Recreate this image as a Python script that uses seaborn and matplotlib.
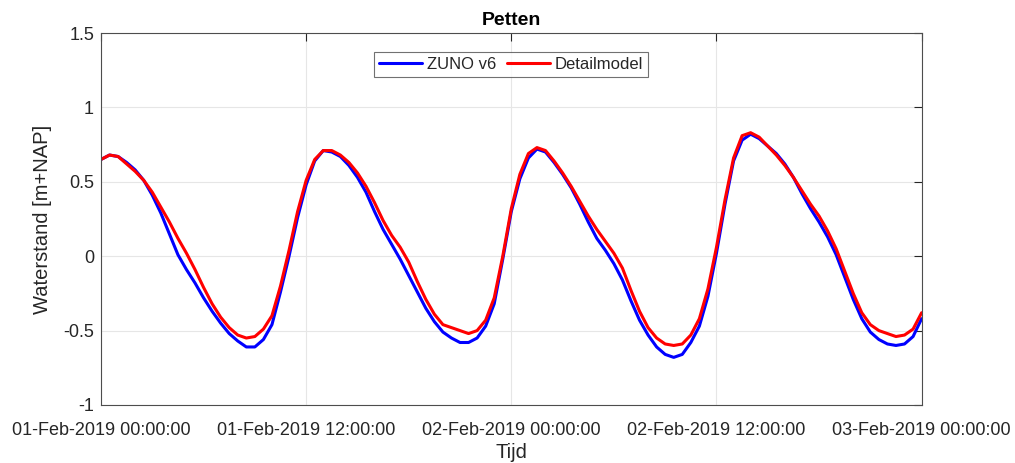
import numpy as np
import pandas as pd
import matplotlib
matplotlib.use("Agg")
import matplotlib.pyplot as plt
import matplotlib.dates as mdates
from matplotlib.ticker import FuncFormatter
import seaborn as sns

sns.set_style("white")
plt.rcParams['font.family'] = ['Liberation Sans', 'DejaVu Sans']

# half-hourly water levels, 01-Feb-2019 00:00 .. 03-Feb-2019 00:00
hours = np.arange(0, 48.5, 0.5)
zuno_v6 = [
    0.65, 0.68, 0.67, 0.63, 0.58, 0.51, 0.41, 0.29, 0.15, 0.01,
    -0.09, -0.18, -0.28, -0.37, -0.45, -0.52, -0.57, -0.61, -0.61, -0.56,
    -0.46, -0.24, 0.00, 0.26, 0.48, 0.64, 0.71, 0.70, 0.67, 0.61,
    0.53, 0.43, 0.30, 0.18, 0.08, -0.02, -0.13, -0.24, -0.35, -0.44,
    -0.51, -0.55, -0.58, -0.58, -0.55, -0.47, -0.32, -0.02, 0.30, 0.52,
    0.66, 0.72, 0.70, 0.63, 0.55, 0.46, 0.35, 0.23, 0.12, 0.04,
    -0.05, -0.16, -0.30, -0.43, -0.53, -0.61, -0.66, -0.68, -0.66, -0.58,
    -0.47, -0.27, 0.02, 0.35, 0.64, 0.78, 0.82, 0.79, 0.74, 0.69,
    0.62, 0.53, 0.42, 0.32, 0.23, 0.13, 0.01, -0.14, -0.29, -0.42,
    -0.51, -0.56, -0.59, -0.60, -0.59, -0.54, -0.42,
]
detailmodel = [
    0.65, 0.68, 0.67, 0.62, 0.57, 0.51, 0.43, 0.33, 0.23, 0.12,
    0.02, -0.09, -0.21, -0.32, -0.41, -0.48, -0.53, -0.55, -0.54, -0.49,
    -0.40, -0.20, 0.04, 0.30, 0.51, 0.65, 0.71, 0.71, 0.68, 0.63,
    0.56, 0.47, 0.36, 0.24, 0.14, 0.06, -0.04, -0.17, -0.29, -0.39,
    -0.46, -0.48, -0.50, -0.52, -0.50, -0.43, -0.28, 0.00, 0.32, 0.55,
    0.69, 0.73, 0.71, 0.64, 0.56, 0.47, 0.37, 0.27, 0.18, 0.10,
    0.02, -0.08, -0.23, -0.37, -0.48, -0.55, -0.59, -0.60, -0.59, -0.53,
    -0.42, -0.22, 0.06, 0.38, 0.66, 0.81, 0.83, 0.80, 0.74, 0.68,
    0.61, 0.53, 0.44, 0.35, 0.27, 0.17, 0.05, -0.10, -0.25, -0.38,
    -0.46, -0.50, -0.52, -0.54, -0.53, -0.49, -0.38,
]
series_names = ['ZUNO v6', 'Detailmodel']
series_colors = ['#0000ff', '#ff0000']

start = pd.Timestamp('2019-02-01 00:00:00')
times = start + pd.to_timedelta(hours, unit='h')
df = pd.concat([
    pd.DataFrame({'Tijd': times, 'Waterstand': zuno_v6, 'model': series_names[0]}),
    pd.DataFrame({'Tijd': times, 'Waterstand': detailmodel, 'model': series_names[1]}),
])

fig = plt.figure(figsize=(10.15, 4.63), dpi=100)
ax = fig.add_axes([0.0995, 0.1253, 0.8085, 0.8034])

sns.lineplot(data=df, x='Tijd', y='Waterstand', hue='model', hue_order=series_names,
             palette=dict(zip(series_names, series_colors)), linewidth=2.2, ax=ax)

axis_grey = '#262626'
ax.set_xlim(start, start + pd.Timedelta(hours=48))
ax.set_ylim(-1, 1.5)
ax.set_yticks([-1, -0.5, 0, 0.5, 1, 1.5])
ax.yaxis.set_major_formatter(FuncFormatter(lambda v, p: f'{v:g}'))
ax.set_xticks(pd.date_range(start, periods=5, freq='12h'))
ax.xaxis.set_major_formatter(mdates.DateFormatter('%d-%b-%Y %H:%M:%S'))

ax.grid(True, color='#e6e6e6', linewidth=0.8)
ax.tick_params(direction='in', length=6, width=0.8, top=True, right=True,
               labelsize=13, colors=axis_grey, labelcolor=axis_grey)
ax.tick_params(axis='x', pad=12)
ax.tick_params(axis='y', pad=5)
for s in ax.spines.values():
    s.set_visible(True)
    s.set_color('#4d4d4d')
    s.set_linewidth(0.8)

ax.set_xlabel('Tijd', fontsize=14.5, color=axis_grey, labelpad=3)
ax.set_ylabel('Waterstand [m+NAP]', fontsize=14.5, color=axis_grey, labelpad=8)
ax.set_title('Petten', fontsize=14, fontweight='bold', color='black', pad=6)

leg = ax.legend(loc='upper center', bbox_to_anchor=(0.5, 0.95), ncol=2, fontsize=12,
                frameon=True, fancybox=False, edgecolor='#4d4d4d', handlelength=2.6,
                handletextpad=0.3, columnspacing=0.6, borderpad=0.3, borderaxespad=0)
leg.get_frame().set_linewidth(0.8)

fig.savefig('out.png', dpi=100)
